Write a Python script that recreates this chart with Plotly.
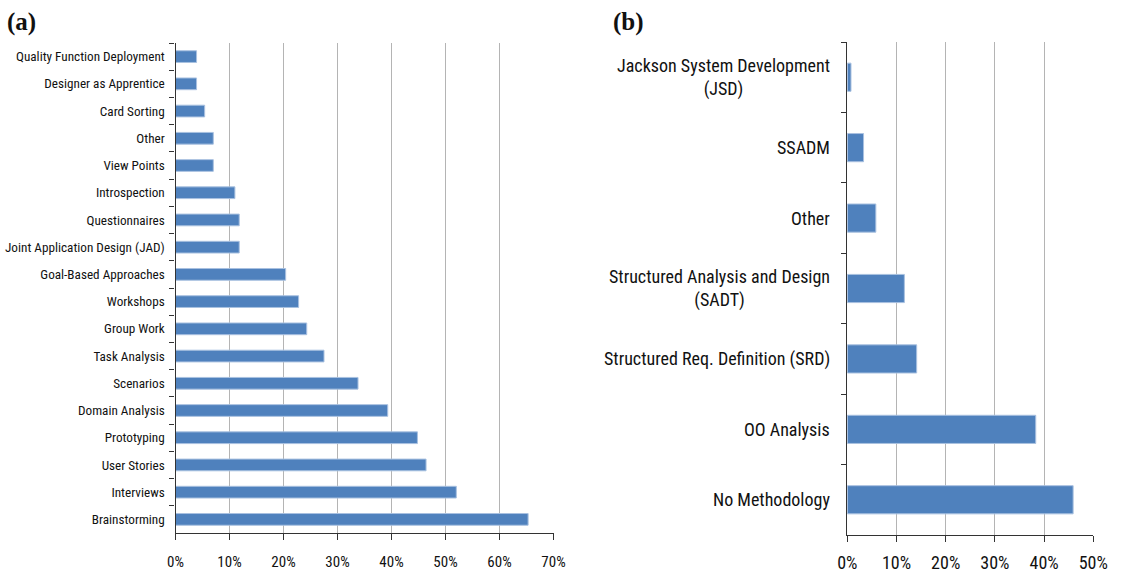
import plotly.graph_objects as go

# Panel (a): requirements elicitation techniques (top to bottom)
techniques = [
    "Quality Function Deployment", "Designer as Apprentice", "Card Sorting", "Other",
    "View Points", "Introspection", "Questionnaires", "Joint Application Design (JAD)",
    "Goal-Based Approaches", "Workshops", "Group Work", "Task Analysis", "Scenarios",
    "Domain Analysis", "Prototyping", "User Stories", "Interviews", "Brainstorming",
]
technique_share = [3.9, 3.9, 5.4, 7.0, 7.0, 11.0, 11.8, 11.8,
                   20.4, 22.8, 24.3, 27.5, 33.8, 39.3, 44.8, 46.4, 52.0, 65.3]

# Panel (b): analysis methodologies (top to bottom)
methods = [
    "Jackson System Development<br>(JSD)", "SSADM", "Other",
    "Structured Analysis and Design<br>(SADT)", "Structured Req. Definition (SRD)",
    "OO Analysis", "No Methodology",
]
method_share = [0.75, 3.3, 5.8, 11.6, 14.1, 38.3, 45.9]

W, H = 1146, 574
BAR = "#4f81bd"
EDGE = "#a9c1e0"
AXIS = "#333333"
GRID = "#b4b4b4"
TEXT = "#111111"
FONT = "Roboto Condensed, Liberation Sans Narrow, sans-serif"

fig = go.Figure()
fig.add_trace(go.Bar(
    x=technique_share, y=techniques, orientation="h", width=0.43,
    marker=dict(color=BAR, line=dict(color=EDGE, width=1)),
    xaxis="x", yaxis="y", showlegend=False,
))
fig.add_trace(go.Bar(
    x=method_share, y=methods, orientation="h", width=0.4,
    marker=dict(color=BAR, line=dict(color=EDGE, width=1)),
    xaxis="x2", yaxis="y2", showlegend=False,
))


def px_x(a, b):
    return [a / W, b / W]


def px_y(top, bottom):
    return [1 - bottom / H, 1 - top / H]


def x_axis(domain, upper, anchor, size, standoff):
    return dict(
        domain=domain, range=[0, upper], anchor=anchor,
        tickmode="linear", tick0=0, dtick=10, ticksuffix="%",
        showgrid=True, gridcolor=GRID, gridwidth=1, zeroline=False,
        showline=True, linecolor=AXIS, linewidth=1.2,
        ticks="outside", ticklen=6, tickcolor=AXIS, automargin=False,
        ticklabelstandoff=standoff,
        tickfont=dict(family=FONT, size=size, color=TEXT),
    )


def y_axis(domain, anchor, order, **extra):
    return dict(
        domain=domain, anchor=anchor, type="category", categoryarray=order,
        autorange="reversed", showgrid=False, zeroline=False,
        showline=True, linecolor=AXIS, linewidth=1.2,
        ticks="outside", ticklen=5, tickcolor=AXIS, tickson="boundaries",
        automargin=False, **extra,
    )


fig.update_layout(
    width=W, height=H,
    margin=dict(l=0, r=0, t=0, b=0),
    paper_bgcolor="white", plot_bgcolor="white",
    xaxis=x_axis(px_x(175.5, 553.5), 70, "y", 15, 9),
    yaxis=y_axis(px_y(43, 533), "x", techniques, ticklabelstandoff=7,
                 tickfont=dict(family=FONT, size=13.2, color=TEXT)),
    xaxis2=x_axis(px_x(847.3, 1093.3), 50, "y2", 18, 5),
    yaxis2=y_axis(px_y(42, 535), "x2", methods, showticklabels=False),
)

# Category labels of panel (b), centred line by line
for m in methods:
    fig.add_annotation(
        x=0, xref="x2 domain", y=m, yref="y2", xanchor="right", xshift=-15,
        text=m, showarrow=False, align="center",
        font=dict(family=FONT, size=18, color=TEXT),
    )

# Panel letters
for label, xpos in (("(a)", 5), ("(b)", 611)):
    fig.add_annotation(
        x=xpos / W, y=1 - 22 / H, xref="paper", yref="paper",
        xanchor="left", yanchor="middle", text=f"<b>{label}</b>", showarrow=False,
        font=dict(family="Liberation Serif, Times New Roman, serif", size=25, color=TEXT),
    )

fig.write_html("out.html")
